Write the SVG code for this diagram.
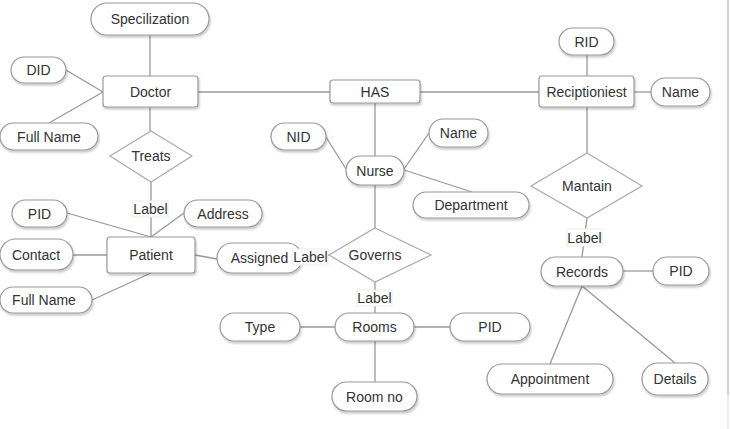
<svg xmlns="http://www.w3.org/2000/svg" width="730" height="429" viewBox="0 0 730 429">
<defs>
<filter id="sh" x="-20%" y="-30%" width="140%" height="170%">
<feDropShadow dx="1" dy="2" stdDeviation="1.2" flood-color="#000" flood-opacity="0.22"/>
</filter>
</defs>
<style>
.n{fill:#fff;stroke:#999;stroke-width:1.2;filter:url(#sh)}
.d{fill:#fff;stroke:#aaa;stroke-width:1.2}
.t{font-family:"Liberation Sans",Arial,sans-serif;font-size:14px;fill:#333;text-anchor:middle;dominant-baseline:central}
.c line{stroke:#999;stroke-width:1.3}
.lb{fill:#fff;stroke:#ececec;stroke-width:1}
</style>
<rect x="0" y="0" width="730" height="429" fill="#fff"/>
<rect x="727" y="0" width="2" height="395" fill="#d0d0d0"/>
<rect x="727" y="395" width="2" height="34" fill="#eeeeee"/>
<g class="c" id="connectors">
<line x1="150" y1="35" x2="150" y2="76"/>
<line x1="66" y1="70" x2="103" y2="92"/>
<line x1="49" y1="123" x2="103" y2="92"/>
<line x1="150" y1="107" x2="150" y2="131"/>
<line x1="198" y1="92" x2="330" y2="92"/>
<line x1="151" y1="182" x2="151" y2="237"/>
<line x1="67" y1="213" x2="151" y2="237"/>
<line x1="184" y1="213" x2="151" y2="237"/>
<line x1="73" y1="255" x2="107" y2="255"/>
<line x1="92" y1="300" x2="151" y2="273"/>
<line x1="195" y1="255" x2="217" y2="259"/>
<line x1="302" y1="258" x2="329" y2="255"/>
<line x1="375" y1="103" x2="375" y2="156"/>
<line x1="326" y1="137" x2="346" y2="169"/>
<line x1="429" y1="133" x2="404" y2="169"/>
<line x1="404" y1="170" x2="472" y2="192"/>
<line x1="375" y1="185" x2="375" y2="228"/>
<line x1="375" y1="282" x2="375" y2="313"/>
<line x1="420" y1="92" x2="539" y2="92"/>
<line x1="587" y1="55" x2="587" y2="76"/>
<line x1="634" y1="92" x2="651" y2="92"/>
<line x1="587" y1="107" x2="587" y2="153"/>
<line x1="587" y1="218" x2="582" y2="257"/>
<line x1="623" y1="271" x2="653" y2="271"/>
<line x1="582" y1="286" x2="550" y2="364"/>
<line x1="582" y1="286" x2="675" y2="363"/>
<line x1="300" y1="327" x2="335" y2="327"/>
<line x1="414" y1="327" x2="450" y2="327"/>
<line x1="375" y1="341" x2="375" y2="382"/>
</g>
<g id="doctor"><rect class="n" x="103" y="76" width="95" height="31" rx="3"/><text class="t" x="150.5" y="92">Doctor</text></g>
<g id="specilization"><rect class="n" x="91" y="3" width="118" height="32" rx="16"/><text class="t" x="150" y="19">Specilization</text></g>
<g id="did"><rect class="n" x="11" y="57" width="55" height="26" rx="13"/><text class="t" x="38.5" y="70">DID</text></g>
<g id="fullname1"><rect class="n" x="0" y="123" width="98" height="27" rx="13.5"/><text class="t" x="49" y="137">Full Name</text></g>
<g id="treats"><polygon class="d" points="151,131 192,156 151,182 110,156"/><text class="t" x="151" y="156">Treats</text></g>
<g id="label-treats"><rect class="lb" x="133" y="201" width="35" height="16"/><text class="t" x="150.5" y="209">Label</text></g>
<g id="pid1"><rect class="n" x="12" y="200" width="55" height="27" rx="13.5"/><text class="t" x="39.5" y="214">PID</text></g>
<g id="address"><rect class="n" x="184" y="200" width="78" height="27" rx="13.5"/><text class="t" x="223" y="214">Address</text></g>
<g id="contact"><rect class="n" x="0" y="239" width="73" height="31" rx="15.5"/><text class="t" x="36" y="255">Contact</text></g>
<g id="patient"><rect class="n" x="107" y="237" width="88" height="36" rx="3"/><text class="t" x="151" y="255">Patient</text></g>
<g id="fullname2"><rect class="n" x="0" y="287" width="92" height="26" rx="13"/><text class="t" x="44" y="300">Full Name</text></g>
<g id="assigned"><rect class="n" x="217" y="243" width="85" height="30" rx="15"/><text class="t" x="259.5" y="258">Assigned</text></g>
<g id="label-assigned"><rect class="lb" x="293" y="249" width="35" height="16"/><text class="t" x="310.5" y="257">Label</text></g>
<g id="has"><rect class="n" x="330" y="80" width="90" height="23" rx="3"/><text class="t" x="375" y="92">HAS</text></g>
<g id="nid"><rect class="n" x="271" y="123" width="55" height="27" rx="13.5"/><text class="t" x="298.5" y="137">NID</text></g>
<g id="name1"><rect class="n" x="429" y="119" width="59" height="28" rx="14"/><text class="t" x="458.5" y="133">Name</text></g>
<g id="nurse"><rect class="n" x="346" y="156" width="58" height="29" rx="14.5"/><text class="t" x="375" y="170.5">Nurse</text></g>
<g id="department"><rect class="n" x="413" y="192" width="116" height="26" rx="13"/><text class="t" x="471" y="205">Department</text></g>
<g id="governs"><polygon class="d" points="375,228 431,255 375,282 329,255"/><text class="t" x="375" y="255">Governs</text></g>
<g id="label-governs"><rect class="lb" x="357" y="290" width="35" height="16"/><text class="t" x="374.5" y="298">Label</text></g>
<g id="rooms"><rect class="n" x="335" y="313" width="79" height="28" rx="14"/><text class="t" x="374.5" y="327">Rooms</text></g>
<g id="type"><rect class="n" x="220" y="313" width="80" height="28" rx="14"/><text class="t" x="260" y="327">Type</text></g>
<g id="pid2"><rect class="n" x="450" y="313" width="80" height="28" rx="14"/><text class="t" x="490" y="327">PID</text></g>
<g id="roomno"><rect class="n" x="332" y="382" width="85" height="29" rx="14.5"/><text class="t" x="374.5" y="397">Room no</text></g>
<g id="rid"><rect class="n" x="559" y="28" width="55" height="27" rx="13.5"/><text class="t" x="586.5" y="42">RID</text></g>
<g id="reciptioniest"><rect class="n" x="539" y="76" width="95" height="31" rx="3"/><text class="t" x="586.5" y="92">Reciptioniest</text></g>
<g id="name2"><rect class="n" x="651" y="78" width="59" height="28" rx="14"/><text class="t" x="680.5" y="92">Name</text></g>
<g id="mantain"><polygon class="d" points="587,153 642,186 587,218 531,186"/><text class="t" x="587" y="186">Mantain</text></g>
<g id="label-mantain"><rect class="lb" x="567" y="229" width="35" height="17"/><text class="t" x="584.5" y="238">Label</text></g>
<g id="records"><rect class="n" x="541" y="257" width="82" height="29" rx="14.5"/><text class="t" x="582" y="271.5">Records</text></g>
<g id="pid3"><rect class="n" x="653" y="257" width="56" height="28" rx="14"/><text class="t" x="681" y="271">PID</text></g>
<g id="appointment"><rect class="n" x="487" y="364" width="126" height="30" rx="15"/><text class="t" x="550" y="379">Appointment</text></g>
<g id="details"><rect class="n" x="642" y="363" width="66" height="32" rx="16"/><text class="t" x="675" y="379">Details</text></g>
</svg>
